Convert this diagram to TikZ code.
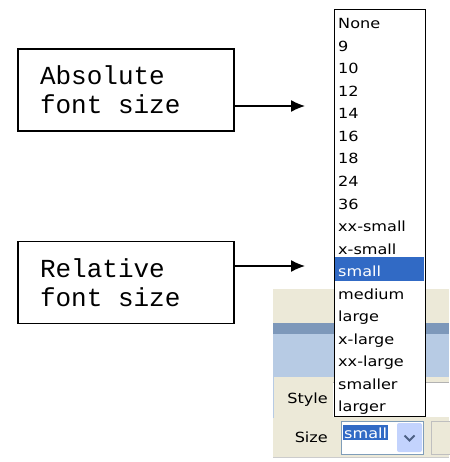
\documentclass[tikz,border=0pt]{standalone}
\usepackage{fontspec}
\setmonofont{Liberation Mono}
\newfontfamily\uifont[FakeStretch=1.15]{DejaVu Sans}
\usetikzlibrary{arrows.meta}
\definecolor{xpbeige}{HTML}{ECE9D8}
\definecolor{xpdark}{HTML}{7D98BA}
\definecolor{xplight}{HTML}{B7CBE4}
\definecolor{xpselect}{HTML}{316AC5}
\definecolor{xpborder}{HTML}{7F9DB9}
\definecolor{xpbutton}{HTML}{C3D3FD}
\definecolor{xpchevron}{HTML}{4D6185}
\tikzset{
  labelbox/.style={draw, line width=1.3pt, minimum width=216pt, minimum height=82pt,
    text width=172pt, inner xsep=22pt, align=left,
    font=\ttfamily\fontsize{26}{29}\selectfont,
    execute at begin node={\spaceskip=0.6em\relax}},
  pointer/.style={line width=1.3pt, -{Latex[length=14pt,width=12pt]}},
  uitext/.style={inner sep=0pt, font=\uifont\fontsize{14}{16}\selectfont},
}
\begin{document}
\begin{tikzpicture}[x=1pt,y=-1pt]
  \useasboundingbox (0,0) rectangle (449,462);
  % dialog panel behind the list
  \fill[xpbeige] (273,289) rectangle (449,458);
  \fill[xpdark] (273,323) rectangle (449,334);
  \fill[xplight] (273,334) rectangle (449,377);
  \fill[white] (333,382) rectangle (449,417);% Style field
  \draw[gray!60] (333,382) -- (449,382);
  \draw[xplight] (273,377) -- (273,418);
  \draw[gray!40] (273,457) -- (449,457);
  \node[uitext, anchor=base east] (stylelbl) at (328,403) {Style};
  \node[uitext, anchor=base east] (sizelbl) at (328,442) {Size};
  % Size combo box
  \node[draw=xpborder, fill=white, anchor=north west, inner sep=0pt,
    minimum width=82pt, minimum height=33pt] (sizebox) at (341,421) {};
  \node[uitext, anchor=base west, fill=xpselect, text=white, inner xsep=1pt,
    inner ysep=2pt] (sizeval) at (343,438) {small};
  \node[fill=xpbutton, rounded corners=2pt, minimum width=25pt,
    minimum height=29pt, inner sep=0pt] (sizebtn) at (409.5,437.5) {};
  \draw[xpchevron, line width=2pt] ([shift={(-5,-2)}]sizebtn.center)
    -- ([shift={(0,3)}]sizebtn.center) -- ([shift={(5,-2)}]sizebtn.center);
  \draw[gray!50, fill=xpbeige] (431,421) rectangle (452,454);
  % open drop-down list
  \node[draw, line width=1pt, fill=white, anchor=north west, inner sep=0pt,
    minimum width=91pt, minimum height=407pt] (sizelist) at (334,9) {};
  \fill[xpselect] (335,257) rectangle (424,281);
  \foreach \t/\c [count=\i from 0] in {None/black,9/black,10/black,12/black,
      14/black,16/black,18/black,24/black,36/black,xx-small/black,
      x-small/black,small/white,medium/black,large/black,x-large/black,
      xx-large/black,smaller/black,larger/black}{
    \node[uitext, anchor=base west, text=\c] (item\i) at (338,29+22.5*\i) {\t};}
  % the two callouts
  \node[labelbox] (absbox) at (126,90) {Absolute\\font size};
  \node[labelbox] (relbox) at (126,282.5) {Relative\\font size};
  \coordinate (absend) at (305,106);
  \coordinate (relend) at (305,266);
  \draw[pointer] (absbox.east |- absend) -- (absend);
  \draw[pointer] (relbox.east |- relend) -- (relend);
\end{tikzpicture}
\end{document}
